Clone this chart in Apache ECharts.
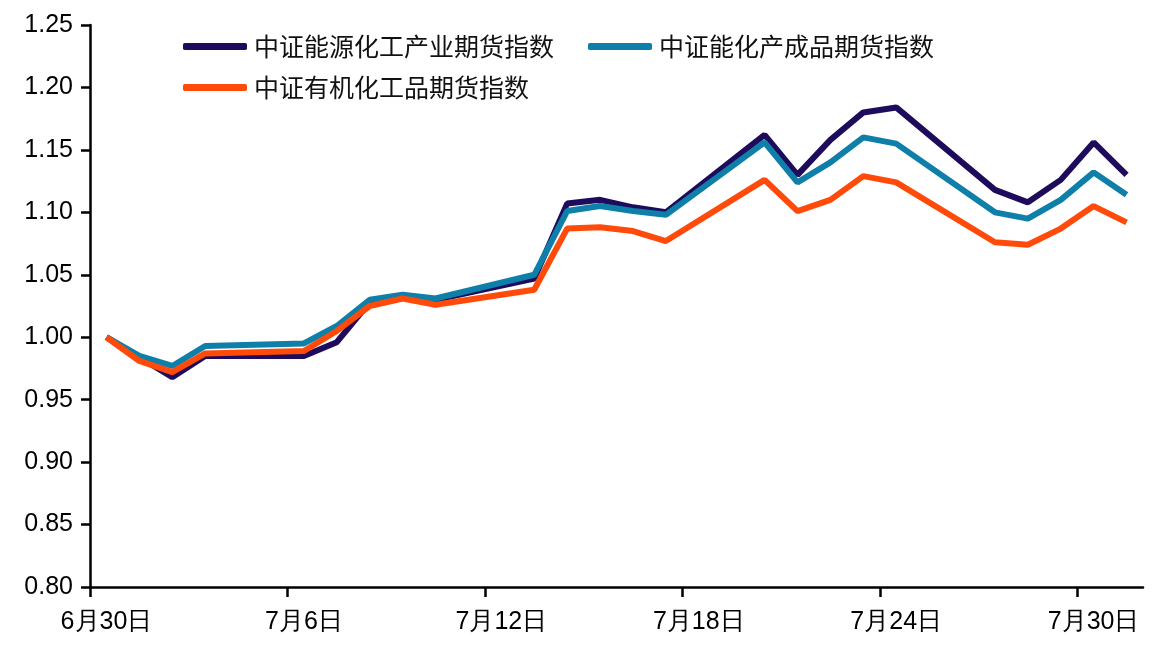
<!DOCTYPE html>
<html>
<head>
<meta charset="utf-8">
<script src="https://cdn.jsdelivr.net/npm/echarts@6/dist/echarts.min.js"></script>
<style>
  html, body { margin: 0; padding: 0; background: #fff; }
  #main { width: 1156px; height: 649px; }
</style>
</head>
<body>
<div id="main"></div>
<script>
// 日历日（横轴类目），每6天一个刻度
var allDays = ['6月30日','7月1日','7月2日','7月3日','7月4日','7月5日','7月6日','7月7日',
  '7月8日','7月9日','7月10日','7月11日','7月12日','7月13日','7月14日','7月15日',
  '7月16日','7月17日','7月18日','7月19日','7月20日','7月21日','7月22日','7月23日',
  '7月24日','7月25日','7月26日','7月27日','7月28日','7月29日','7月30日','7月31日'];

// 交易日
var tradeDays = ['6月30日','7月1日','7月2日','7月3日','7月6日','7月7日','7月8日','7月9日',
  '7月10日','7月13日','7月14日','7月15日','7月16日','7月17日','7月20日','7月21日',
  '7月22日','7月23日','7月24日','7月27日','7月28日','7月29日','7月30日','7月31日'];

// 刻度线所在的日序号（每6天）
var tickDays = [0, 6, 12, 18, 24, 30];

var names = ['中证能源化工产业期货指数', '中证能化产成品期货指数', '中证有机化工品期货指数'];

var energyChem = [1.000, 0.984, 0.968, 0.985, 0.985, 0.996, 1.028, 1.032, 1.030, 1.047,
  1.107, 1.110, 1.104, 1.100, 1.162, 1.130, 1.158, 1.180, 1.184, 1.118, 1.108, 1.126, 1.156, 1.130];
var products = [1.000, 0.985, 0.977, 0.993, 0.995, 1.009, 1.030, 1.034, 1.031, 1.050,
  1.101, 1.105, 1.101, 1.098, 1.156, 1.124, 1.140, 1.160, 1.155, 1.100, 1.095, 1.110, 1.132, 1.114];
var organic = [1.000, 0.981, 0.972, 0.987, 0.989, 1.005, 1.025, 1.031, 1.026, 1.038,
  1.087, 1.088, 1.085, 1.077, 1.126, 1.101, 1.110, 1.129, 1.124, 1.076, 1.074, 1.087, 1.105, 1.092];

var colors = ['#1f0b5c', '#0e7fa8', '#ff4a0a'];

function pairs(vals) {
  return tradeDays.map(function (d, i) { return [d, vals[i]]; });
}

var myChart = echarts.init(document.getElementById('main'));

function legendAt(name, left, top) {
  return {
    data: [name],
    left: left,
    top: top,
    icon: 'roundRect',
    itemWidth: 64,
    itemHeight: 7,
    itemGap: 10,
    textStyle: {
      fontFamily: 'Noto Sans CJK SC',
      fontSize: 25,
      color: '#111',
      padding: [0, 0, 0, 2]
    }
  };
}

var option = {
  backgroundColor: '#fff',
  animation: false,
  color: colors,
  legend: [
    legendAt(names[0], 178, 29),
    legendAt(names[1], 583, 29),
    legendAt(names[2], 178, 70)
  ],
  grid: {
    left: 90,
    right: 13,
    top: 25,
    bottom: 62
  },
  xAxis: [
    {
      type: 'category',
      data: allDays,
      boundaryGap: true,
      axisLine: { lineStyle: { color: '#000', width: 2.5 } },
      axisTick: { show: false },
      axisLabel: {
        interval: 5,
        margin: 23,
        color: '#000',
        fontFamily: 'Arial',
        fontSize: 25
      },
      splitLine: { show: false }
    },
    {
      // 只用来画刻度线
      type: 'value',
      position: 'bottom',
      min: 0,
      max: allDays.length,
      axisLine: { show: false },
      axisTick: {
        show: true,
        customValues: tickDays,
        length: 10,
        lineStyle: { color: '#000', width: 2.5 }
      },
      axisLabel: { show: false },
      splitLine: { show: false }
    }
  ],
  yAxis: {
    type: 'value',
    min: 0.8,
    max: 1.25,
    interval: 0.05,
    axisLine: { show: true, lineStyle: { color: '#000', width: 2.5 } },
    axisTick: { show: true, length: 9, lineStyle: { color: '#000', width: 2.5 } },
    axisLabel: {
      margin: 17,
      color: '#000',
      fontFamily: 'Arial',
      fontSize: 25,
      formatter: function (v) { return v.toFixed(2); }
    },
    splitLine: { show: false }
  },
  series: [
    {
      name: names[0],
      type: 'line',
      data: pairs(energyChem),
      symbol: 'none',
      z: 2,
      lineStyle: { width: 6, color: colors[0] }
    },
    {
      name: names[1],
      type: 'line',
      data: pairs(products),
      symbol: 'none',
      z: 3,
      lineStyle: { width: 6, color: colors[1] }
    },
    {
      name: names[2],
      type: 'line',
      data: pairs(organic),
      symbol: 'none',
      z: 4,
      lineStyle: { width: 6, color: colors[2] }
    }
  ]
};

myChart.setOption(option);
window.onresize = function () { myChart.resize(); };
</script>
</body>
</html>
